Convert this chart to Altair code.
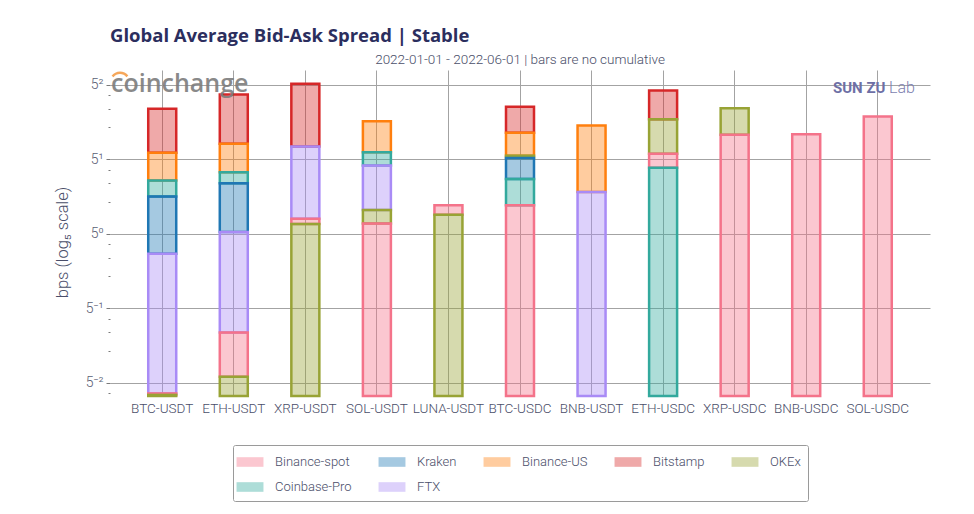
import pandas as pd
import altair as alt

PAIRS = [
    "BTC-USDT", "ETH-USDT", "XRP-USDT", "SOL-USDT", "LUNA-USDT", "BTC-USDC",
    "BNB-USDT", "ETH-USDC", "XRP-USDC", "BNB-USDC", "SOL-USDC",
]

EXCHANGES = ["Binance-spot", "Kraken", "Binance-US", "Bitstamp", "OKEx", "Coinbase-Pro", "FTX"]

# average spread in bps, one value per pair (None = not listed)
BINANCE_SPOT = [0.0319, 0.119, 1.39, 1.25, 1.86, 1.86, None, 5.64, 8.50, 8.63, 12.66]
KRAKEN = [2.24, 2.99, None, None, None, 5.16, None, None, None, None, None]
BINANCE_US = [5.77, 7.01, None, 11.42, None, 8.88, 10.42, None, None, None, None]
BITSTAMP = [14.94, 20.35, 25.65, None, None, 15.6, None, 22.19, None, None, None]
OKEX = [0.0309, 0.0457, 1.24, 1.68, 1.51, 5.42, None, 11.92, 15.13, None, None]
COINBASE_PRO = [3.17, 3.79, None, 5.84, None, 3.28, None, 4.17, None, None, None]
FTX = [0.653, 1.044, 6.61, 4.38, None, None, 2.48, None, None, None, None]

COLORS = ["#f4738a", "#1f77b4", "#ff7f0e", "#d62728", "#98a335", "#33a99d", "#a98bf6"]

MAJOR_TICKS = [0.04, 0.2, 1, 5, 25]
MINOR_TICKS = [0.032, 0.08, 0.12, 0.16, 0.4, 0.6, 0.8, 2, 3, 4, 10, 15, 20]
Y_MIN = 5 ** -2.175
Y_MAX = 5 ** 2.2

series = [BINANCE_SPOT, KRAKEN, BINANCE_US, BITSTAMP, OKEX, COINBASE_PRO, FTX]
rows = []
for name, vals in zip(EXCHANGES, series):
    for pair, v in zip(PAIRS, vals):
        if v is not None:
            rows.append({"pair": pair, "exchange": name, "value": v})
df = pd.DataFrame(rows)

# bars are not cumulative: each one starts where the next smaller one ends
df = df.sort_values(["pair", "value"])
df["base"] = df.groupby("pair")["value"].shift(1).fillna(Y_MIN)
df = df.sort_values("value", ascending=False)

is_major = "abs(log(datum.value)/log(5) - round(log(datum.value)/log(5))) < 0.001"
exp5 = "round(log(datum.value)/log(5))"
label_expr = (
    f"!({is_major}) ? '' : {exp5} == 2 ? '5²' : {exp5} == 1 ? '5¹' : "
    f"{exp5} == 0 ? '5⁰' : {exp5} == -1 ? '5⁻¹' : '5⁻²'"
)

TEXT = "#4a4e69"
FONT = "Roboto"
GRID = "#a3a3a3"

bars = (
    alt.Chart(df)
    .mark_bar(width=28, strokeWidth=2.5, fillOpacity=0.4)
    .encode(
        x=alt.X(
            "pair:N",
            sort=PAIRS,
            title=None,
            scale=alt.Scale(paddingInner=0, paddingOuter=0.23),
            axis=alt.Axis(
                bandPosition=0.5, grid=True, ticks=False, domain=False, labelAngle=0,
                labelFont=FONT, labelFontSize=13.5, labelFontWeight=300,
                labelColor=TEXT, labelPadding=5,
                gridColor=GRID, gridWidth=1,
            ),
        ),
        y=alt.Y(
            "value:Q",
            scale=alt.Scale(type="log", base=5, domain=[Y_MIN, Y_MAX], nice=False),
            title="bps (log₅ scale)",
            axis=alt.Axis(
                values=sorted(MAJOR_TICKS + MINOR_TICKS),
                labelExpr=label_expr,
                domain=False,
                gridColor=GRID,
                gridOpacity={"condition": {"test": is_major, "value": 1}, "value": 0},
                tickSize={"condition": {"test": is_major, "value": 4}, "value": 2},
                tickColor="#7a7a7a",
                labelPadding=3,
                labelFont=FONT, labelFontSize=14, labelFontWeight=300,
                labelColor="#5b5f75",
                titleFont=FONT, titleFontSize=16.5, titleFontWeight=300,
                titleColor=TEXT, titleX=-48, titleY=172, titleAngle=-90,
                titleAlign="center", titleBaseline="middle",
            ),
        ),
        y2="base:Q",
        fill=alt.Fill(
            "exchange:N",
            scale=alt.Scale(domain=EXCHANGES, range=COLORS),
            legend=alt.Legend(
                title=None, orient="none", legendX=123, legendY=375,
                direction="horizontal", columns=5, columnPadding=26, rowPadding=8,
                symbolType="M-1.4,-0.5H1.4V0.5H-1.4Z", symbolSize=370,
                symbolOpacity=0.4, symbolStrokeWidth=0, labelOffset=15,
                labelFont=FONT, labelFontSize=13, labelFontWeight=300,
                labelColor=TEXT,
                strokeColor="#9a9a9a", padding=7, cornerRadius=2,
            ),
        ),
        stroke=alt.Stroke(
            "exchange:N",
            scale=alt.Scale(domain=EXCHANGES, range=COLORS),
            legend=None,
        ),
        order=alt.Order("value:Q", sort="descending"),
    )
)

title = (
    alt.Chart(pd.DataFrame({"t": ["Global Average Bid-Ask Spread | Stable"]}))
    .mark_text(align="left", baseline="alphabetic", font="Open Sans", fontSize=18.5,
               fontWeight="bold", color="#2b2e5e")
    .encode(x=alt.value(0), y=alt.value(-28), text="t:N")
)

subtitle = (
    alt.Chart(pd.DataFrame({"t": ["2022-01-01 - 2022-06-01 | bars are no cumulative"]}))
    .mark_text(align="center", baseline="alphabetic", font=FONT, fontSize=13.5,
               fontWeight=300, color=TEXT)
    .encode(x=alt.value(410), y=alt.value(-6), text="t:N")
)

coinchange = (
    alt.Chart(pd.DataFrame({"t": ["coinchange"]}))
    .mark_text(align="left", baseline="alphabetic", font="Open Sans", fontSize=25,
               fontWeight=600, color="#7d7d7d", opacity=0.9)
    .encode(x=alt.value(1), y=alt.value(22), text="t:N")
)

coin_arc = (
    alt.Chart(pd.DataFrame({"t": ["arc"]}))
    .mark_arc(radius=10.5, radius2=8, theta=5.35, theta2=7.2, color="#f6a75a")
    .encode(x=alt.value(10), y=alt.value(12))
)

sunzu = (
    alt.Chart(pd.DataFrame({"t": ["SUN ZU"]}))
    .mark_text(align="left", baseline="alphabetic", font=FONT, fontSize=15,
               fontWeight="bold", color="#6d6fa5")
    .encode(x=alt.value(723), y=alt.value(23), text="t:N")
)

lab = (
    alt.Chart(pd.DataFrame({"t": ["Lab"]}))
    .mark_text(align="left", baseline="alphabetic", font=FONT, fontSize=16,
               fontWeight=300, color="#7d7fb0")
    .encode(x=alt.value(779), y=alt.value(23), text="t:N")
)

chart = (
    alt.layer(bars, title, subtitle, coinchange, coin_arc, sunzu, lab)
    .properties(
        width=820,
        height=326,
        autosize=alt.AutoSizeParams(type="none"),
        padding={"left": 102, "top": 62, "right": 36, "bottom": 110},
    )
    .configure_view(stroke=None)
)

chart.save("out.html", embed_options={"renderer": "svg", "actions": False})
